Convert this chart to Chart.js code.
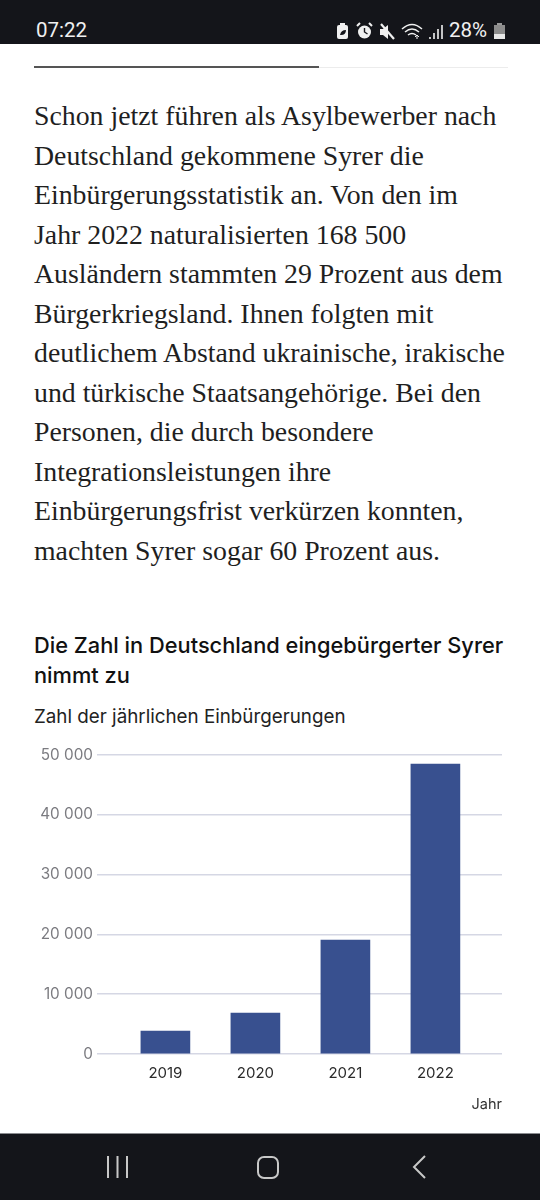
<!DOCTYPE html>
<html lang="de">
<head>
<meta charset="utf-8">
<title>Einbürgerungen</title>
<script src="https://cdn.jsdelivr.net/npm/chart.js@4"></script>
<style>
  html, body { margin: 0; padding: 0; background: #fff; }
  #page { position: relative; width: 540px; height: 1200px; overflow: hidden; background: #fff; }
  .abs { position: absolute; white-space: nowrap; }
  #statusbar { position: absolute; left: 0; top: 0; width: 540px; height: 44px; background: #14151a; }
  #navbar { position: absolute; left: 0; top: 1133px; width: 540px; height: 67px; background: #14151a; border-top: 1.5px solid #8a8b8f; box-sizing: border-box; }
  .status { font-family: Roboto, sans-serif; font-size: 20.5px; color: #f0f0f0; line-height: 24px; }
  .body-line { left: 34px; font-family: "Liberation Serif", serif; font-size: 27.8px; line-height: 32px; color: #1f1f1f; }
  #titel { left: 34px; top: 630px; font-family: Inter, sans-serif; font-weight: 500; font-size: 21.8px; line-height: 30px; color: #111; }
  #untertitel { left: 34px; top: 705px; font-family: Inter, sans-serif; font-size: 18.8px; line-height: 24px; color: #222; }
  #chartbox { position: absolute; left: 0; top: 740px; width: 540px; height: 373px; }
</style>
</head>
<body>
<div id="page">
  <div id="statusbar">
    <div class="abs status" style="left:36px;top:18px">07:22</div>
    <svg class="abs" style="left:335px;top:20px" width="112" height="22" viewBox="0 0 112 22">
      <rect x="2" y="5" width="11" height="14" rx="2" fill="#f0f0f0"/><rect x="5" y="3" width="5" height="2" fill="#f0f0f0"/>
      <path d="M5 15q1-5 6-5q0 5-5 5" fill="#14151a"/>
      <circle cx="29.5" cy="12" r="6.5" fill="#f0f0f0"/><path d="M29.5 8v4l3 2" stroke="#14151a" stroke-width="1.4" fill="none"/>
      <path d="M22 6l3-3M37 6l-3-3" stroke="#f0f0f0" stroke-width="2"/>
      <path d="M45 9h3l5-4v14l-5-4h-3z" fill="#f0f0f0"/><path d="M46 4l13 15" stroke="#f0f0f0" stroke-width="2.2"/>
      <path d="M67 9q10-9 20 0M70 12q7-6 14 0M73 15q4-3 8 0" stroke="#f0f0f0" stroke-width="1.5" fill="none"/>
      <path d="M82 19v-4M80 17l2-2 2 2" stroke="#f0f0f0" stroke-width="1" fill="none"/>
      <path d="M95 19v-2M99 19v-6M103 19v-10M107 19v-14" stroke="#f0f0f0" stroke-width="1.6"/>
    </svg>
    <div class="abs status" style="left:449px;top:18px">28%</div>
    <svg class="abs" style="left:494px;top:23px" width="12" height="16"><rect x="3" y="0" width="5" height="2" fill="#999"/><rect x="0" y="2" width="11" height="9" fill="#8c8c8c"/><rect x="0" y="11" width="11" height="5" fill="#e8e8e8"/></svg>
  </div>

  <div class="abs" style="left:34px;top:67px;width:474px;height:1px;background:#ececec"></div>
  <div class="abs" style="left:34px;top:66px;width:285px;height:1.5px;background:#555"></div>

  <div id="textblock"></div>

  <div id="titel" class="abs">Die Zahl in Deutschland eingebürgerter Syrer<br>nimmt zu</div>
  <div id="untertitel" class="abs">Zahl der jährlichen Einbürgerungen</div>

  <div id="chartbox"><canvas id="einbuergerungen"></canvas></div>

  <div id="navbar">
    <svg class="abs" style="left:100px;top:18px" width="340" height="30" viewBox="0 0 340 30">
      <path d="M8 4v22M17.5 4v22M27 4v22" stroke="#c8c8c8" stroke-width="2"/>
      <rect x="158" y="5" width="20" height="21" rx="6" stroke="#c8c8c8" stroke-width="2" fill="none"/>
      <path d="M325 4l-11 11 11 11" stroke="#c8c8c8" stroke-width="2" fill="none"/>
    </svg>
  </div>
</div>

<script>
const bodyLines = [
  "Schon jetzt führen als Asylbewerber nach",
  "Deutschland gekommene Syrer die",
  "Einbürgerungsstatistik an. Von den im",
  "Jahr 2022 naturalisierten 168 500",
  "Ausländern stammten 29 Prozent aus dem",
  "Bürgerkriegsland. Ihnen folgten mit",
  "deutlichem Abstand ukrainische, irakische",
  "und türkische Staatsangehörige. Bei den",
  "Personen, die durch besondere",
  "Integrationsleistungen ihre",
  "Einbürgerungsfrist verkürzen konnten,",
  "machten Syrer sogar 60 Prozent aus."
];

const jahre = [2019, 2020, 2021, 2022];
const einbuergerungen = [3850, 6850, 19060, 48500];
const yTicks = [0, 10000, 20000, 30000, 40000, 50000];
const yTickLabels = ["0", "10 000", "20 000", "30 000", "40 000", "50 000"];

// Fliesstext zeilenweise setzen, damit die Umbrueche stimmen
const block = document.getElementById("textblock");
bodyLines.forEach(function (zeile, i) {
  const div = document.createElement("div");
  div.className = "abs body-line";
  div.style.top = (100 + i * 39.5) + "px";
  div.textContent = zeile;
  block.appendChild(div);
});

const ctx = document.getElementById("einbuergerungen").getContext("2d");
new Chart(ctx, {
  type: "bar",
  data: {
    datasets: [
      {
        label: "Einbürgerungen",
        data: jahre.map(function (jahr, i) {
          return { x: jahr, y: einbuergerungen[i] };
        }),
        backgroundColor: "#38508f",
        barThickness: 49,
      },
    ],
  },
  options: {
    responsive: true,
    maintainAspectRatio: false,
    animation: false,
    layout: { padding: { top: 15, right: 38, left: 0, bottom: 0 } },
    plugins: { legend: { display: false }, tooltip: { enabled: false } },
    scales: {
      x: {
        type: "linear",
        offset: false, // sonst rechnet die Balkenachse noch Rand dazu
        // Gitterlinien laufen links und rechts ueber die Balken hinaus
        min: 2018.24,
        max: 2022.74,
        grid: { display: false },
        border: { display: false },
        afterBuildTicks: function (scale) {
          scale.ticks = jahre.map(function (jahr) {
            return { value: jahr };
          });
        },
        afterFit: function (scale) {
          scale.height = 59;
        },
        ticks: {
          autoSkip: false,
          maxRotation: 0,
          padding: 2,
          color: "#2b2b2b",
          font: { family: "Inter, sans-serif", size: 15 },
          callback: function (value) {
            return String(value);
          },
        },
        title: {
          display: true,
          text: "Jahr",
          align: "end",
          color: "#333",
          padding: { top: 10, bottom: 0 },
          font: { family: "Inter, sans-serif", size: 14.5 },
        },
      },
      y: {
        min: 0,
        max: 50000,
        afterBuildTicks: function (scale) {
          scale.ticks = yTicks.map(function (wert) {
            return { value: wert };
          });
        },
        afterFit: function (scale) {
          scale.width = 97;
        },
        grid: { color: "#d5d7e4", lineWidth: 1.5, drawTicks: false },
        border: { display: false },
        ticks: {
          padding: 4,
          color: "#7b7b80",
          font: { family: "Inter, sans-serif", size: 15.3 },
          callback: function (value) {
            return yTickLabels[yTicks.indexOf(value)];
          },
        },
      },
    },
  },
});
</script>
</body>
</html>
